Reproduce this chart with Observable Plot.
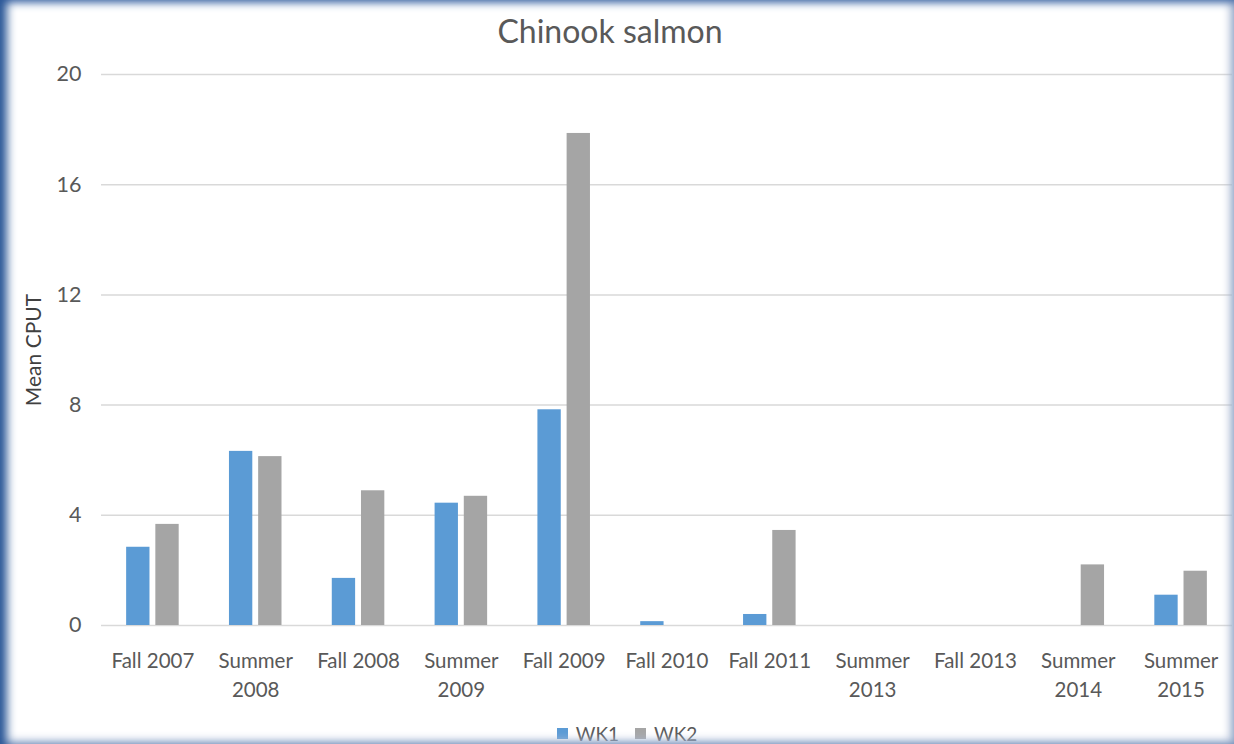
<!DOCTYPE html>
<html>
<head>
<meta charset="utf-8">
<script src="https://cdn.jsdelivr.net/npm/d3@7"></script>
<script src="https://cdn.jsdelivr.net/npm/@observablehq/plot@0.6"></script>
<style>
  html, body { margin: 0; padding: 0; background: #fff; }
  #wrap { position: relative; width: 1234px; height: 744px; overflow: hidden; font-family: Lato, "Open Sans", sans-serif; color: #595959; background: #fff; }
  #title { position: absolute; left: 0; top: 11px; width: 1220px; text-align: center; font-size: 32px; line-height: 40px; color: #595959; }
  #legend { position: absolute; left: 0; top: 722px; width: 1254px; text-align: center; font-size: 19px; line-height: 19px; color: #595959; white-space: nowrap; }
  #legend span.item { display: inline-flex; align-items: center; margin: 0 8px; }
  #legend span.sw { display: inline-block; width: 11px; height: 11px; margin-right: 8px; }
  #chart { position: absolute; left: 0; top: 0; }
  #frame { position: absolute; left: 0; top: 0; width: 1234px; height: 744px; pointer-events: none;
    box-shadow:
      inset 10px 0 10px -3px #2b5797,
      inset 0 7px 9px -4px #5f80b6,
      inset -9px 0 8px -5px #a9b8d2,
      inset 0 -9px 8px -5px #b3c1da; }
</style>
</head>
<body>
<div id="wrap">
  <div id="chart"></div>
  <div id="title">Chinook salmon</div>
  <div id="legend"></div>
  <div id="frame"></div>
</div>
<script>
const categories = ["Fall 2007", "Summer 2008", "Fall 2008", "Summer 2009", "Fall 2009", "Fall 2010", "Fall 2011", "Summer 2013", "Fall 2013", "Summer 2014", "Summer 2015"];
const wk1 = [2.84, 6.32, 1.71, 4.44, 7.83, 0.14, 0.40, 0, 0, 0, 1.10];
const wk2 = [3.67, 6.13, 4.89, 4.69, 17.86, 0, 3.45, 0, 0, 2.20, 1.97];
const seriesNames = ["WK1", "WK2"];
const seriesColors = ["#5b9bd5", "#a5a5a5"];
const yTicks = [0, 4, 8, 12, 16, 20];
const yLabel = "Mean CPUT";

const rows1 = categories.map((c, i) => ({category: c, series: "WK1", value: wk1[i]}));
const rows2 = categories.map((c, i) => ({category: c, series: "WK2", value: wk2[i]}));

const fmt = c => c.startsWith("Summer ") ? c.replace(" ", "\n") : c;

const chart = Plot.plot({
  width: 1234,
  height: 744,
  marginTop: 74,
  marginBottom: 119,
  marginLeft: 101,
  marginRight: 2,
  style: { fontFamily: "Lato, 'Open Sans', sans-serif", color: "#595959", background: "transparent", overflow: "visible" },
  x: { domain: categories, paddingInner: 0.773, paddingOuter: 0.3865, round: false, axis: null },
  y: { domain: [0, 20], axis: null },
  color: { domain: seriesNames, range: seriesColors },
  marks: [
    Plot.gridY(yTicks, { stroke: "#d9d9d9", strokeOpacity: 1, strokeWidth: 1.5 }),
    Plot.axisY(yTicks, { tickSize: 0, tickPadding: 20, fontSize: 21.5, label: null, fill: "#595959" }),
    Plot.axisX({ tickSize: 0, tickPadding: 22, fontSize: 20.5, lineHeight: 1.42, tickFormat: fmt, label: null, fill: "#595959" }),
    Plot.barY(rows1, { x: "category", y: "value", fill: "series", dx: -14.6 }),
    Plot.barY(rows2, { x: "category", y: "value", fill: "series", dx: 14.6 }),
    Plot.text([yLabel], { frameAnchor: "left", dx: -67, rotate: -90, textAnchor: "middle", text: d => d, fontSize: 21, fill: "#404040" })
  ]
});
document.getElementById("chart").appendChild(chart);

const legend = document.getElementById("legend");
seriesNames.forEach((s, i) => {
  const item = document.createElement("span");
  item.className = "item";
  const sw = document.createElement("span");
  sw.className = "sw";
  sw.style.background = seriesColors[i];
  item.appendChild(sw);
  item.appendChild(document.createTextNode(s));
  legend.appendChild(item);
});
</script>
</body>
</html>
